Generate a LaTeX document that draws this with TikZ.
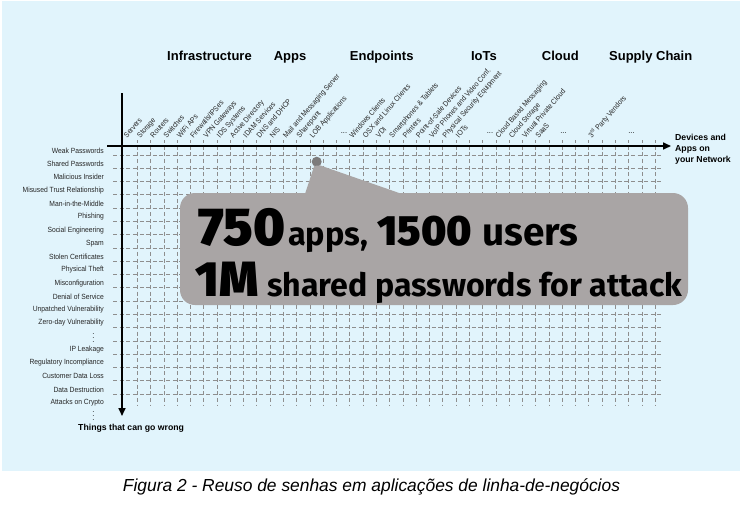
\documentclass[tikz,border=0pt]{standalone}
\usepackage{fontspec}
\setmainfont{Liberation Sans}
\newfontfamily\heavyfont{Fira Sans}[UprightFont=* Black, BoldFont=* Bold]
\newfontfamily\narrowfont{Liberation Sans}[FakeStretch=0.9]
\usetikzlibrary{arrows.meta}
\definecolor{bgblue}{HTML}{E1F4FC}
\definecolor{gridgray}{HTML}{8E8E8E}
\definecolor{callgray}{HTML}{A9A5A5}
\definecolor{dotgray}{HTML}{7D7B7B}
\tikzset{
  gridv/.style={gridgray, line width=0.7pt, dash pattern=on 4pt off 2.64pt, dash phase=1pt},
  gridh/.style={gridgray, line width=0.7pt, dash pattern=on 4pt off 2.64pt, dash phase=0pt},
  axisline/.style={black, line width=1.6pt, -{Triangle[length=8pt,width=7pt]}},
  rowlabel/.style={anchor=east, inner sep=0pt, text=black!85, font=\narrowfont\fontsize{7.5}{8}\selectfont},
  collabel/.style={anchor=base west, inner sep=0pt, rotate=49, text=black!85, font=\narrowfont\fontsize{7.5}{8}\selectfont},
  header/.style={anchor=base, inner sep=0pt, font=\bfseries\fontsize{13}{15}\selectfont},
  axislabel/.style={inner sep=0pt, font=\bfseries\fontsize{8.7}{11.2}\selectfont},
  dots/.style={inner sep=0pt, font=\fontsize{7.5}{8}\selectfont},
  bigtext/.style={anchor=base west, inner sep=0pt},
}
\begin{document}
\begin{tikzpicture}[x=1pt,y=-1pt]
\useasboundingbox (0,0) rectangle (742,504);
\fill[bgblue] (2,1) rectangle (740,471);
% grid
\foreach \i in {0,...,39}
  \draw[gridv] ({137.3+13.28*\i},140) -- ({137.3+13.28*\i},406);
\foreach \j in {0,...,18}
  \draw[gridh] (113,{155+13.28*\j}) -- (662,{155+13.28*\j});
% axes
\coordinate (xo) at (107,146);
\coordinate (xe) at (671,146);
\coordinate (yo) at (122,93);
\coordinate (ye) at (122,416);
\draw[axisline] (xo) -- (xe);
\draw[axisline] (yo) -- (ye);
% headers
\node[header] (hinf) at (209.5,60.5) {Infrastructure};
\node[header] (happ) at (290,60.5) {Apps};
\node[header] (hend) at (381.7,60.5) {Endpoints};
\node[header] (hiot) at (484,60.5) {IoTs};
\node[header] (hcld) at (560.3,60.5) {Cloud};
\node[header] (hsup) at (650.7,60.5) {Supply Chain};
% axis labels
\node[axislabel, anchor=west, align=left] (devices) at (675,149) {Devices and\\Apps on\\your Network};
\node[axislabel, anchor=west] (things) at (78,428.5) {Things that can go wrong};
% row labels
\foreach \t [count=\k from 0] in {Weak Passwords, Shared Passwords, Malicious Insider,
  Misused Trust Relationship, Man-in-the-Middle, Phishing, Social Engineering, Spam,
  Stolen Certificates, Physical Theft, Misconfiguration, Denial of Service,
  Unpatched Vulnerability, Zero-day Vulnerability, {}, IP Leakage,
  Regulatory Incompliance, Customer Data Loss, Data Destruction, Attacks on Crypto}
  \node[rowlabel] (row\k) at (104,{155+13.28*\k-4.6}) {\t};
\node[inner sep=0pt] (vd1) at (93.5,335.5) {\fontsize{7.5}{8}\selectfont$\vdots$};
\node[inner sep=0pt] (vd2) at (93.5,413.5) {\fontsize{7.5}{8}\selectfont$\vdots$};
% column labels
\foreach \c/\t in {0/Servers, 1/Storage, 2/Routers, 3/Switches, 4/WiFi APs,
  5/Firewalls\slash IPSes, 6/VPN Gateways, 7/IDS Systems, 8/Active Directory,
  9/IDAM Services, 10/DNS and DHCP, 11/NIS, 12/Mail and Messaging Server,
  13/Sharepoint, 14/LOB Applications, 17/Windows Clients, 18/OSX and Linux Clients,
  19/VDI, 20/Smartphones \& Tablets, 21/Printers, 22/Point-of-Sale Devices,
  23/VoIP Phones and Video Conf., 24/Physical Security Equipment, 25/IOTs,
  28/Cloud Based Messaging, 29/Cloud Storage, 30/Virtual Private Cloud, 31/SaaS,
  35/3\textsuperscript{rd} Party Vendors}
  \node[collabel] (col\c) at ({137.3+13.28*\c-10.3},138.5) {\t};
\node[dots] (dt1) at (344,133.5) {...};
\node[dots] (dt2) at (490,133.5) {...};
\node[dots] (dt3) at (563.5,133.5) {...};
\node[dots] (dt4) at (631.5,133.5) {...};
% callout
\node[fill=callgray, rounded corners=15pt, minimum width=508pt, minimum height=112pt, inner sep=0pt] (callout) at (434,249) {};
\node[circle, fill=dotgray, minimum size=10pt, inner sep=0pt] (dot) at (316.7,161.7) {};
\fill[callgray] ([xshift=-2.5pt,yshift=1pt]dot.south) -- ([xshift=3.5pt,yshift=1.5pt]dot.south)
  -- (402,194) -- (402,200) -- (305,200) -- (305,194) -- cycle;
\node[bigtext] (n750) at (198,245) {\resizebox{87pt}{!}{\heavyfont 750}};
\node[bigtext] (napps) at (288,245) {\resizebox{80pt}{!}{\heavyfont\bfseries apps,}};
\node[bigtext] (n1500) at (377,245) {\resizebox{95pt}{!}{\heavyfont 1500}};
\node[bigtext] (nusers) at (482,245) {\resizebox{96pt}{!}{\heavyfont\bfseries users}};
\node[bigtext] (n1m) at (195,296) {\resizebox{63pt}{!}{\heavyfont 1M}};
\node[bigtext] (nshared) at (267,296) {\resizebox{415pt}{!}{\heavyfont\bfseries shared passwords for attack}};
% caption
\node[inner sep=0pt, font=\itshape\fontsize{17.4}{20}\selectfont] (caption) at (371.5,487) {Figura 2 - Reuso de senhas em aplicações de linha-de-negócios};
\end{tikzpicture}
\end{document}
